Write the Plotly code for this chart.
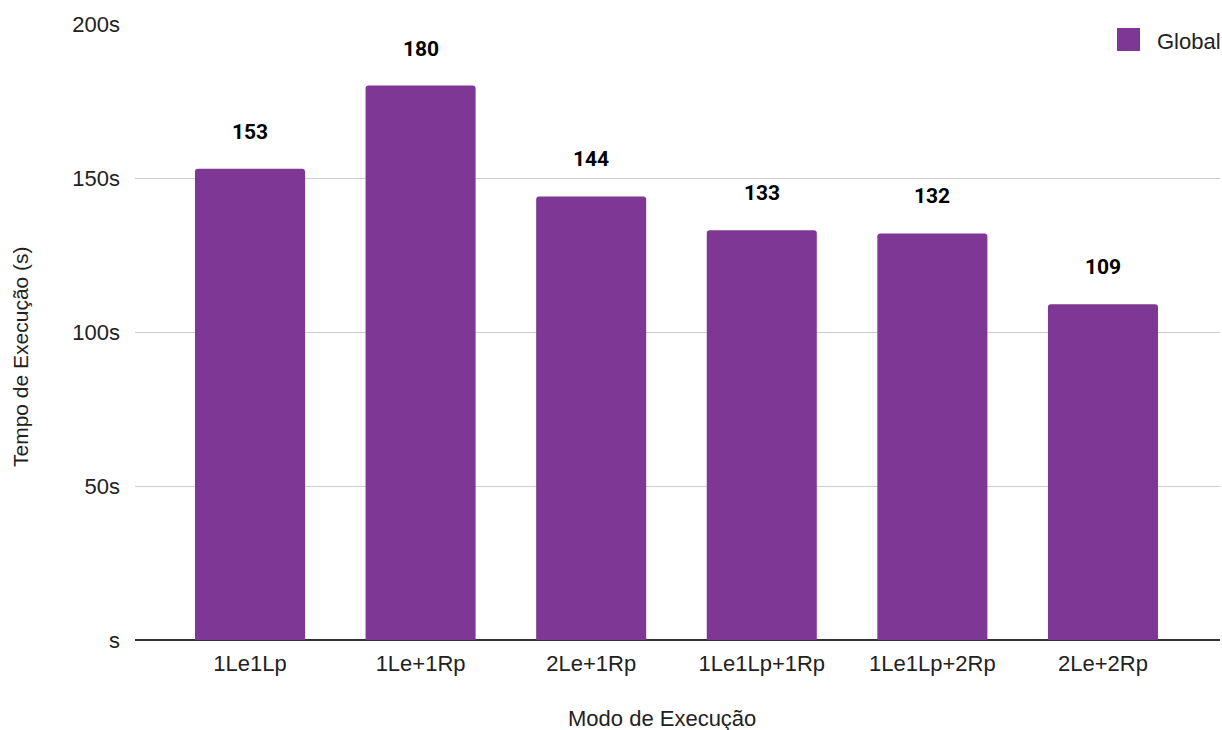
import plotly.graph_objects as go

# Execution modes and global execution times (seconds)
modes = ["1Le1Lp", "1Le+1Rp", "2Le+1Rp", "1Le1Lp+1Rp", "1Le1Lp+2Rp", "2Le+2Rp"]
global_times = [153, 180, 144, 133, 132, 109]
series_name = "Global"

tick_vals = [0, 50, 100, 150, 200]
tick_text = ["s", "50s", "100s", "150s", "200s"]

BAR_COLOR = "#7E3794"
FONT_FAMILY = "Liberation Sans, Arial, sans-serif"
TICK_FONT = dict(family=FONT_FAMILY, size=22, color="#222222")

# Plot area geometry in pixels
W, H = 1222, 730
ML, MR, MT, MB = 135, 2, 24, 90
PW, PH = W - ML - MR, H - MT - MB


def px_x(px):
    return (px - ML) / PW


def px_y(py):
    return (H - MB - py) / PH


fig = go.Figure()
fig.add_trace(go.Bar(
    x=modes,
    y=global_times,
    name=series_name,
    marker=dict(color=BAR_COLOR, cornerradius=3, line=dict(width=0)),
    width=0.645,
    showlegend=False,
))

# Bold value labels above each bar
for m, v in zip(modes, global_times):
    fig.add_annotation(
        x=m, y=v, text=f"<b>{v}</b>", showarrow=False,
        yanchor="bottom", yshift=23,
        font=dict(family="Roboto, sans-serif", size=21, color="#000000"),
    )

# Legend: square swatch + series name, top right
fig.add_shape(
    type="rect", xref="paper", yref="paper",
    x0=px_x(1117), x1=px_x(1140), y0=px_y(51), y1=px_y(28),
    fillcolor=BAR_COLOR, line=dict(width=0), layer="above",
)
fig.add_annotation(
    text=series_name, xref="paper", yref="paper",
    x=px_x(1155), y=px_y(41), xanchor="left", yanchor="middle",
    showarrow=False, font=dict(family=FONT_FAMILY, size=22, color="#222222"),
)

# Axis titles
fig.add_annotation(
    text="Modo de Execução", xref="paper", yref="paper",
    x=px_x(662), y=px_y(718), xanchor="center", yanchor="middle",
    showarrow=False, font=dict(family=FONT_FAMILY, size=22, color="#222222"),
)
fig.add_annotation(
    text="Tempo de Execução (s)", xref="paper", yref="paper",
    x=px_x(20), y=px_y(357), xanchor="center", yanchor="middle",
    textangle=-90, showarrow=False,
    font=dict(family=FONT_FAMILY, size=21, color="#222222"),
)

fig.update_layout(
    width=W, height=H,
    margin=dict(l=ML, r=MR, t=MT, b=MB),
    plot_bgcolor="white", paper_bgcolor="white",
    showlegend=False,
    xaxis=dict(
        range=[-0.674, 5.686],
        tickfont=TICK_FONT, showgrid=False, showline=False, zeroline=False,
        ticks="", ticklabelstandoff=8,
    ),
    yaxis=dict(
        range=[0, 200], tickvals=tick_vals, ticktext=tick_text,
        tickfont=TICK_FONT, showgrid=True, gridcolor="#cccccc", gridwidth=1,
        zeroline=True, zerolinecolor="#333333", zerolinewidth=2,
        showline=False, ticks="", ticklabelstandoff=14,
    ),
)

fig.write_html("out.html")
